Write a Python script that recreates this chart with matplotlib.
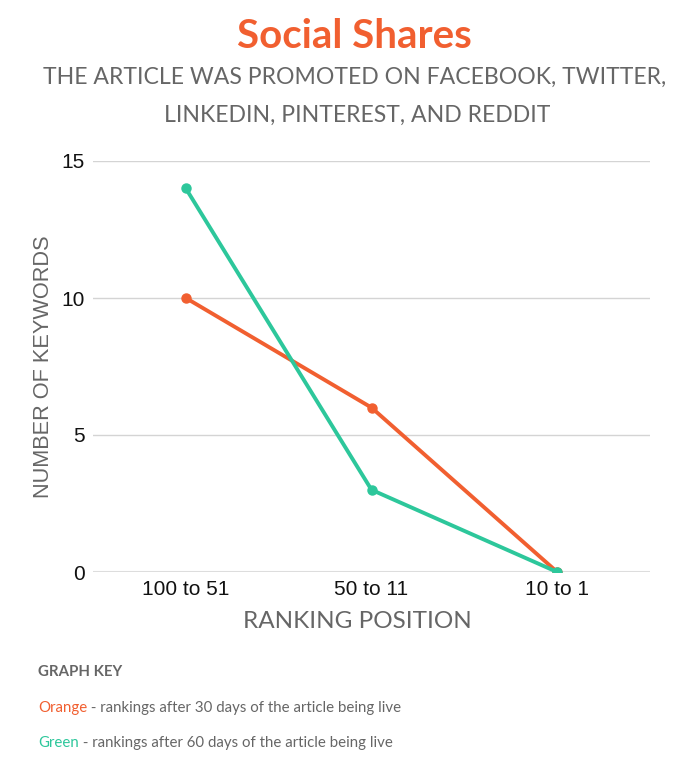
import matplotlib
matplotlib.use("Agg")
import matplotlib.pyplot as plt

categories = ["100 to 51", "50 to 11", "10 to 1"]
orange_vals = [10, 6, 0]
green_vals = [14, 3, 0]
y_ticks = [0, 5, 10, 15]

ORANGE = "#f15f30"
GREEN = "#2dc79b"
GREY = "#666666"

fig = plt.figure(figsize=(7, 7.7), dpi=100)
ax = fig.add_axes([93/700, 1-572/770, (650-93)/700, (572-161)/770])

x = range(len(categories))
ax.plot(x, orange_vals, color=ORANGE, lw=2.8, marker="o", ms=6.5, zorder=3)
ax.plot(x, green_vals, color=GREEN, lw=2.8, marker="o", ms=6.5, zorder=4)

ax.set_xlim(-0.5, 2.5)
ax.set_ylim(0, 15)
ax.set_xticks(list(x))
ax.set_xticklabels(categories)
ax.set_yticks(y_ticks)
ax.tick_params(length=0, labelsize=15, labelcolor="#111111", pad=6)
for lab in ax.get_xticklabels() + ax.get_yticklabels():
    lab.set_family("Liberation Sans")
ax.grid(axis="y", color="#d4d4d4", lw=1)
ax.set_axisbelow(True)
for s in ax.spines.values():
    s.set_visible(False)
ax.axhline(0, color="#dddddd", lw=1.5, zorder=1)

ax.set_ylabel("NUMBER OF KEYWORDS", family="Liberation Sans", fontsize=15.7, color=GREY, labelpad=5)
# x label sits a bit left of the axes centre in the reference
ax.text((357-93)/557, -(621-572)/411, "RANKING POSITION", transform=ax.transAxes, ha="center", va="center",
        family="Lato", fontsize=17.5, color=GREY)

fig.text(354/700, 1-36/770, "Social Shares", ha="center", va="center", family="Lato",
         fontweight="bold", fontsize=29, color=ORANGE)
fig.text(355/700, 1-77/770, "THE ARTICLE WAS PROMOTED ON FACEBOOK, TWITTER,", ha="center", va="center",
         family="Lato", fontsize=16.6, color=GREY)
fig.text(357/700, 1-115/770, "LINKEDIN, PINTEREST, AND REDDIT", ha="center", va="center",
         family="Lato", fontsize=16.6, color=GREY)

fig.text(38/700, 1-672/770, "GRAPH KEY", ha="left", va="center", family="Lato",
         fontweight="bold", fontsize=10.8, color=GREY)
t = fig.text(38/700, 1-708/770, "Orange", ha="left", va="center", family="Lato", fontsize=10.8, color=ORANGE)
fig.canvas.draw()
bb = t.get_window_extent()
fig.text(bb.x1/700, 1-708/770, " - rankings after 30 days of the article being live", ha="left", va="center",
         family="Lato", fontsize=10.8, color=GREY)
t2 = fig.text(38/700, 1-743/770, "Green", ha="left", va="center", family="Lato", fontsize=10.8, color=GREEN)
bb2 = t2.get_window_extent(renderer=fig.canvas.get_renderer())
fig.text(bb2.x1/700, 1-743/770, " - rankings after 60 days of the article being live", ha="left", va="center",
         family="Lato", fontsize=10.8, color=GREY)

fig.savefig("out.png", dpi=100)
